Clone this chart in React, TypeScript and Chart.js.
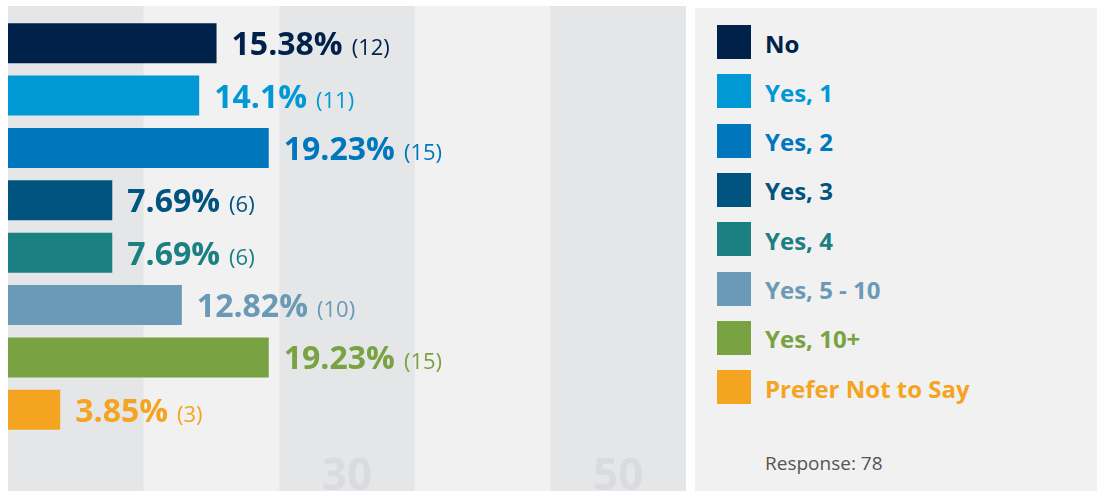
import React, { useEffect, useRef } from "react";
import { Chart, registerables } from "chart.js";

Chart.register(...registerables);

const categories = ["No", "Yes, 1", "Yes, 2", "Yes, 3", "Yes, 4", "Yes, 5 - 10", "Yes, 10+", "Prefer Not to Say"];
const percentages = [15.38, 14.1, 19.23, 7.69, 7.69, 12.82, 19.23, 3.85];
const counts = [12, 11, 15, 6, 6, 10, 15, 3];
const colors = ["#00224a", "#0099d5", "#0077bd", "#00547f", "#1b8082", "#6b9ab6", "#79a243", "#f4a420"];
const xMin = 0;
const xMax = 50;
const bandStep = 10;
const axisLabels = [30, 50];
const responseCount = 78;

const FONT = "'Open Sans', 'Noto Sans', sans-serif";

export default function App() {
  const ref = useRef<HTMLCanvasElement>(null);

  useEffect(() => {
    document.body.style.overflow = "hidden";
    const canvas = ref.current;
    if (!canvas) return;

    const bandsPlugin = {
      id: "bands",
      beforeDraw(chart: any) {
        const { ctx, width, height } = chart;
        const x = chart.scales.x;
        ctx.save();
        ctx.fillStyle = "#f1f1f1";
        ctx.fillRect(0, 0, width, height);
        ctx.fillStyle = "#e5e6e8";
        for (let v = xMin; v < xMax; v += bandStep * 2) {
          const a = x.getPixelForValue(v);
          const b = x.getPixelForValue(v + bandStep);
          ctx.fillRect(a, 0, b - a, height);
        }
        ctx.fillStyle = "#dadbde";
        ctx.font = `bold 44px ${FONT}`;
        ctx.textAlign = "center";
        ctx.textBaseline = "alphabetic";
        axisLabels.forEach((v) => {
          const px = x.getPixelForValue(v - bandStep / 2);
          ctx.fillText(String(v), px, height - 1);
        });
        ctx.restore();
      },
    };

    const labelsPlugin = {
      id: "barLabels",
      afterDatasetsDraw(chart: any) {
        const { ctx } = chart;
        const meta = chart.getDatasetMeta(0);
        ctx.save();
        ctx.textAlign = "left";
        ctx.textBaseline = "alphabetic";
        meta.data.forEach((bar: any, i: number) => {
          const x0 = bar.x + 15;
          const y0 = bar.y + 12;
          ctx.fillStyle = colors[i];
          ctx.font = `bold 32px ${FONT}`;
          const pText = `${percentages[i]}%`;
          ctx.fillText(pText, x0, y0);
          const w = ctx.measureText(pText).width;
          ctx.font = `22px ${FONT}`;
          ctx.fillText(`(${counts[i]})`, x0 + w + 9, y0);
        });
        ctx.restore();
      },
    };

    const chart = new Chart(canvas, {
      type: "bar",
      data: {
        labels: categories,
        datasets: [
          {
            data: percentages,
            backgroundColor: colors,
            borderWidth: 0,
            barPercentage: 0.763,
            categoryPercentage: 1,
          },
        ],
      },
      options: {
        indexAxis: "y",
        responsive: false,
        animation: false,
        devicePixelRatio: 1,
        layout: { padding: { left: 0, right: 0, top: 11, bottom: 55 } },
        scales: {
          x: { type: "linear", min: xMin, max: xMax, display: false },
          y: { display: false },
        },
        plugins: {
          legend: { display: false },
          tooltip: { enabled: false },
        },
      },
      plugins: [bandsPlugin, labelsPlugin],
    } as any);

    return () => chart.destroy();
  }, []);

  return (
    <div>
      <div style={{ position: "absolute", left: 8, top: 6, width: 678, height: 485 }}>
        <canvas ref={ref} width={678} height={485} style={{ display: "block", width: 678, height: 485 }} />
      </div>
      <div
        style={{
          position: "absolute",
          left: 695,
          top: 8,
          width: 402,
          height: 483,
          background: "#f1f1f1",
          fontFamily: FONT,
        }}
      >
        {categories.map((c, i) => (
          <div
            key={c}
            style={{
              position: "absolute",
              left: 22,
              top: 17 + i * 49.3,
              height: 34,
              display: "flex",
              alignItems: "center",
            }}
          >
            <div style={{ width: 34, height: 34, background: colors[i], flex: "none" }} />
            <div
              style={{
                marginLeft: 14,
                color: colors[i],
                fontWeight: 700,
                fontSize: 24,
                lineHeight: "34px",
                paddingTop: 3,
                whiteSpace: "nowrap",
              }}
            >
              {c}
            </div>
          </div>
        ))}
        <div
          style={{
            position: "absolute",
            left: 70,
            top: 446,
            fontSize: 19,
            lineHeight: "19px",
            color: "#555555",
            whiteSpace: "nowrap",
          }}
        >
          Response: {responseCount}
        </div>
      </div>
    </div>
  );
}
